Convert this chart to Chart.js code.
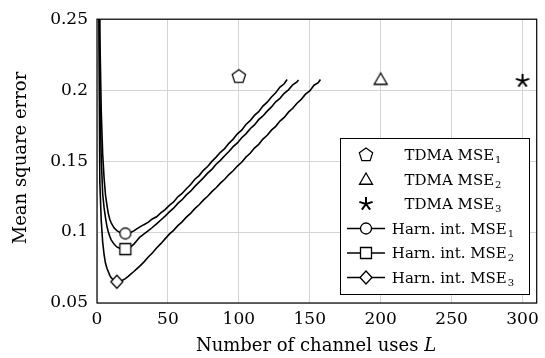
<!DOCTYPE html>
<html lang="en">
<head>
<meta charset="UTF-8">
<title>Mean square error vs channel uses</title>
<script src="https://cdn.jsdelivr.net/npm/chart.js"></script>
<style>
  body { margin: 0; background: #fff; }
</style>
</head>
<body>
<canvas id="grafico" width="545" height="358"></canvas>
<script>
// TDMA reference points
const tdmaL = [100, 200, 300];
const tdmaMSE = [0.2095, 0.2075, 0.2065];

// harmonic interference curves
const harmL1 = [1,2,3,4,5,6,7,8,9,10,12,14,16,18,20,22,24,26,28,30,33,36,39,42,45,48,51,54,57,60,63,66,69,72,75,78,81,84,87,90,93,96,99,102,105,108,111,114,117,120,123,126,129,132,134];
const harmMSE1 = [0.45,0.24,0.185,0.155,0.138,0.126,0.119,0.113,0.109,0.1065,0.103,0.101,0.0998,0.0992,0.099,0.0992,0.0998,0.1008,0.1022,0.1035,0.1052,0.1068,0.1092,0.1108,0.1135,0.1158,0.1188,0.1212,0.1248,0.1272,0.1305,0.1335,0.1372,0.1398,0.1435,0.1462,0.1498,0.1528,0.1562,0.1588,0.1625,0.1655,0.1692,0.1718,0.1758,0.1785,0.1822,0.1848,0.1888,0.1915,0.1952,0.1982,0.2022,0.2045,0.2075];

const harmL2 = [1,2,3,4,5,6,7,8,9,10,12,14,16,18,20,22,24,26,28,30,33,36,39,42,45,48,51,54,57,60,63,66,69,72,75,78,81,84,87,90,93,96,99,102,105,108,111,114,117,120,123,126,129,132,135,138,141,142];
const harmMSE2 = [0.40,0.20,0.152,0.127,0.117,0.11,0.104,0.1,0.097,0.0945,0.0915,0.0895,0.0885,0.088,0.088,0.0885,0.0898,0.0915,0.0938,0.0962,0.0985,0.1008,0.1032,0.1058,0.1085,0.1112,0.1142,0.1168,0.1202,0.1228,0.1262,0.1288,0.1322,0.1352,0.1382,0.1415,0.1442,0.1478,0.1505,0.1538,0.1568,0.1602,0.1628,0.1665,0.1692,0.1728,0.1755,0.1792,0.1818,0.1852,0.1882,0.1918,0.1942,0.1978,0.2002,0.2038,0.2058,0.2072];

const harmL3 = [1,2,3,4,5,6,7,8,9,10,12,14,16,18,20,22,24,26,28,30,33,36,39,42,45,48,51,54,57,60,63,66,69,72,75,78,81,84,87,90,93,96,99,102,105,108,111,114,117,120,123,126,129,132,135,138,141,144,147,150,153,156,157.5];
const harmMSE3 = [0.30,0.135,0.108,0.093,0.084,0.078,0.0745,0.072,0.0695,0.0678,0.066,0.065,0.0652,0.066,0.0672,0.0688,0.0705,0.0722,0.074,0.0758,0.0788,0.0822,0.0852,0.0888,0.0918,0.0952,0.0985,0.1012,0.1045,0.1072,0.1105,0.1132,0.1165,0.1192,0.1225,0.1252,0.1285,0.1312,0.1345,0.1372,0.1405,0.1432,0.1465,0.1492,0.1528,0.1555,0.1592,0.1618,0.1655,0.1682,0.1718,0.1745,0.1782,0.1808,0.1845,0.1872,0.1908,0.1935,0.1972,0.1995,0.2035,0.2052,0.2075];

// L where each harmonic curve carries its marker
const markerL = [20, 20, 14];

const xTicks = [0, 50, 100, 150, 200, 250, 300];
const yTicks = [0.05, 0.1, 0.15, 0.2, 0.25];

const legendBase = ['TDMA MSE', 'TDMA MSE', 'TDMA MSE', 'Harn. int. MSE', 'Harn. int. MSE', 'Harn. int. MSE'];
const legendSub = ['1', '2', '3', '1', '2', '3'];
const legendSym = ['pentagon', 'triangle', 'star', 'circle', 'square', 'diamond'];

const SERIF = '"DejaVu Serif", "Liberation Serif", serif';

function drawSymbol(g, kind, x, y) {
    g.save();
    g.strokeStyle = '#000';
    g.fillStyle = '#fff';
    g.lineWidth = 1.3;
    g.beginPath();
    if (kind === 'pentagon') {
        for (let k = 0; k < 5; k++) {
            const a = -Math.PI / 2 + k * 2 * Math.PI / 5;
            g.lineTo(x + 7 * Math.cos(a), y + 7 * Math.sin(a));
        }
        g.closePath(); g.fill(); g.stroke();
    } else if (kind === 'triangle') {
        for (let k = 0; k < 3; k++) {
            const a = -Math.PI / 2 + k * 2 * Math.PI / 3;
            g.lineTo(x + 7.5 * Math.cos(a), y + 1 + 7.5 * Math.sin(a));
        }
        g.closePath(); g.fill(); g.stroke();
    } else if (kind === 'star') {
        g.lineWidth = 2;
        for (let k = 0; k < 5; k++) {
            const a = -Math.PI / 2 + k * 2 * Math.PI / 5;
            g.moveTo(x, y);
            g.lineTo(x + 7 * Math.cos(a), y + 7 * Math.sin(a));
        }
        g.stroke();
    } else if (kind === 'circle') {
        g.arc(x, y, 5.5, 0, Math.PI * 2);
        g.fill(); g.stroke();
    } else if (kind === 'square') {
        g.rect(x - 5.5, y - 5.5, 11, 11);
        g.fill(); g.stroke();
    } else if (kind === 'diamond') {
        g.moveTo(x, y - 6.5); g.lineTo(x + 6, y); g.lineTo(x, y + 6.5); g.lineTo(x - 6, y);
        g.closePath(); g.fill(); g.stroke();
    }
    g.restore();
}

function symbolCanvas(kind) {
    const c = document.createElement('canvas');
    c.width = 20; c.height = 20;
    drawSymbol(c.getContext('2d'), kind, 10, 10);
    return c;
}

function pts(xs, ys) {
    return xs.map((x, i) => ({ x: x, y: ys[i] }));
}

const datasets = [];
for (let i = 0; i < 3; i++) {
    datasets.push({
        label: legendBase[i] + legendSub[i],
        data: [{ x: tdmaL[i], y: tdmaMSE[i] }],
        showLine: false,
        pointStyle: symbolCanvas(legendSym[i]),
        pointRadius: 7
    });
}
const harmL = [harmL1, harmL2, harmL3];
const harmMSE = [harmMSE1, harmMSE2, harmMSE3];
for (let i = 0; i < 3; i++) {
    datasets.push({
        label: legendBase[i + 3] + legendSub[i + 3],
        data: pts(harmL[i], harmMSE[i]),
        showLine: true,
        borderColor: '#000',
        borderWidth: 1.6,
        tension: 0,
        pointStyle: symbolCanvas(legendSym[i + 3]),
        pointRadius: ctx => (ctx.raw && ctx.raw.x === markerL[i]) ? 6 : 0
    });
}

const decor = {
    id: 'decor',
    afterDraw(chart) {
        const ctx = chart.ctx;
        const a = chart.chartArea;
        ctx.save();
        ctx.strokeStyle = '#000';
        ctx.lineWidth = 1.2;
        ctx.strokeRect(a.left, a.top, a.right - a.left, a.bottom - a.top);

        // legend box
        const bx = 340, by = 138, bw = 189, bh = 156;
        ctx.fillStyle = '#fff';
        ctx.fillRect(bx, by, bw, bh);
        ctx.lineWidth = 1;
        ctx.strokeRect(bx + 0.5, by + 0.5, bw, bh);
        for (let i = 0; i < legendBase.length; i++) {
            const y = 155 + i * 24.5;
            if (i >= 3) {
                ctx.beginPath();
                ctx.lineWidth = 1.5;
                ctx.moveTo(347, y); ctx.lineTo(385, y);
                ctx.stroke();
            }
            drawSymbol(ctx, legendSym[i], 366, y);
            ctx.fillStyle = '#000';
            ctx.textBaseline = 'alphabetic';
            ctx.textAlign = 'left';
            ctx.font = '15px ' + SERIF;
            const wb = ctx.measureText(legendBase[i]).width;
            ctx.font = '10px ' + SERIF;
            const ws = ctx.measureText(legendSub[i]).width;
            const x0 = 453 - (wb + ws + 1) / 2;
            ctx.font = '15px ' + SERIF;
            ctx.fillText(legendBase[i], x0, y + 5);
            ctx.font = '10px ' + SERIF;
            ctx.fillText(legendSub[i], x0 + wb + 1, y + 8);
        }

        // axis titles
        ctx.fillStyle = '#000';
        ctx.textBaseline = 'middle';
        ctx.font = '18px ' + SERIF;
        const t1 = 'Number of channel uses ';
        const w1 = ctx.measureText(t1).width;
        ctx.font = 'italic 18px ' + SERIF;
        const w2 = ctx.measureText('L').width;
        const sx = 316 - (w1 + w2) / 2;
        ctx.textAlign = 'left';
        ctx.font = '18px ' + SERIF;
        ctx.fillText(t1, sx, 346);
        ctx.font = 'italic 18px ' + SERIF;
        ctx.fillText('L', sx + w1, 346);

        ctx.translate(21, 158);
        ctx.rotate(-Math.PI / 2);
        ctx.textAlign = 'center';
        ctx.font = '18px ' + SERIF;
        ctx.fillText('Mean square error', 0, 0);
        ctx.restore();
    }
};

new Chart(document.getElementById('grafico').getContext('2d'), {
    type: 'scatter',
    data: { datasets: datasets },
    options: {
        responsive: false,
        devicePixelRatio: 1,
        animation: false,
        layout: { padding: { left: 0, right: 7, top: 17, bottom: 0 } },
        plugins: { legend: { display: false }, tooltip: { enabled: false } },
        scales: {
            x: {
                type: 'linear',
                min: 0, max: 310,
                afterBuildTicks: s => { s.ticks = xTicks.map(v => ({ value: v })); },
                afterFit: s => { s.height = 55; },
                grid: { color: '#d4d4d4', lineWidth: 1, drawTicks: false },
                border: { display: false },
                ticks: { color: '#000', padding: 6, font: { family: SERIF, size: 17 }, maxRotation: 0 }
            },
            y: {
                type: 'linear',
                min: 0.05, max: 0.25,
                afterBuildTicks: s => { s.ticks = yTicks.map(v => ({ value: v })); },
                afterFit: s => { s.width = 97; },
                grid: { color: '#d4d4d4', lineWidth: 1, drawTicks: false },
                border: { display: false },
                ticks: {
                    color: '#000', padding: 9, font: { family: SERIF, size: 17 },
                    callback: v => String(Math.round(v * 100) / 100)
                }
            }
        }
    },
    plugins: [decor]
});
</script>
</body>
</html>
